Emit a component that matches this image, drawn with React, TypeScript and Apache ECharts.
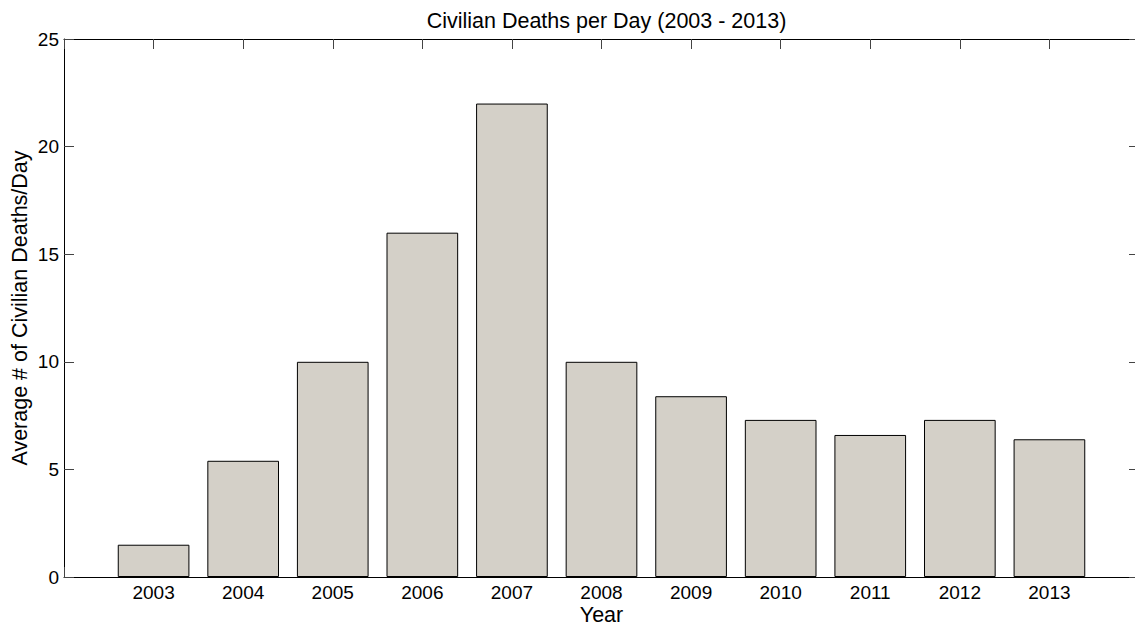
import React, { useEffect, useRef } from "react";
import * as echarts from "echarts";

const years = [2003, 2004, 2005, 2006, 2007, 2008, 2009, 2010, 2011, 2012, 2013];
const deathsPerDay = [1.5, 5.4, 10.0, 16.0, 22.0, 10.0, 8.4, 7.3, 6.6, 7.3, 6.4];
const yTicks = [0, 5, 10, 15, 20, 25];
const titleText = "Civilian Deaths per Day (2003 - 2013)";
const xName = "Year";
const yName = "Average # of Civilian Deaths/Day";

const FONT = "Arial, 'Liberation Sans', Helvetica, sans-serif";
const FS = 19;
const FS_BIG = 21.5;

export default function App() {
  const ref = useRef<HTMLDivElement>(null);
  useEffect(() => {
    if (!ref.current) return;
    const chart = echarts.init(ref.current, undefined, { renderer: "svg" });
    const gridLeft = 64;
    const gridTop = 39;
    const gridW = 1075;
    const gridH = 538;
    const unit = gridW / 12;
    const tickStyle = { inside: true, length: 10, lineStyle: { color: "#444", width: 1 } };
    const lineStyle = { show: true, onZero: false, lineStyle: { color: "#000", width: 1 } };
    chart.setOption({
      animation: false,
      backgroundColor: "#fff",
      title: {
        text: titleText,
        left: gridLeft + gridW / 2,
        textAlign: "center",
        top: 5,
        textStyle: { fontFamily: FONT, fontSize: FS_BIG, fontWeight: "normal", color: "#000" },
      },
      grid: {
        left: gridLeft,
        top: gridTop,
        width: gridW,
        height: gridH,
        containLabel: false,
        outerBoundsMode: "none",
      },
      xAxis: [
        {
          type: "value",
          position: "bottom",
          min: 2002,
          max: 2014,
          interval: 1,
          axisLine: lineStyle,
          axisTick: tickStyle,
          splitLine: { show: false },
          axisLabel: {
            margin: 6,
            color: "#000",
            fontFamily: FONT,
            fontSize: FS,
            formatter: (v: number) => (years.indexOf(v) >= 0 ? String(v) : ""),
          },
          name: xName,
          nameLocation: "middle",
          nameGap: 28,
          nameMoveOverlap: false,
          nameTextStyle: { color: "#000", fontFamily: FONT, fontSize: FS_BIG, lineHeight: 20 },
        },
        {
          type: "value",
          position: "top",
          min: 2002,
          max: 2014,
          interval: 1,
          axisLine: lineStyle,
          axisTick: tickStyle,
          splitLine: { show: false },
          axisLabel: { show: false },
        },
      ],
      yAxis: [
        {
          type: "value",
          position: "left",
          min: yTicks[0],
          max: yTicks[yTicks.length - 1],
          interval: 5,
          axisLine: lineStyle,
          axisTick: tickStyle,
          splitLine: { show: false },
          axisLabel: { margin: 5, color: "#000", fontFamily: FONT, fontSize: FS },
          name: yName,
          nameLocation: "middle",
          nameGap: 33,
          nameMoveOverlap: false,
          nameTextStyle: { color: "#000", fontFamily: FONT, fontSize: FS_BIG },
        },
        {
          type: "value",
          position: "right",
          min: yTicks[0],
          max: yTicks[yTicks.length - 1],
          interval: 5,
          axisLine: lineStyle,
          axisTick: tickStyle,
          splitLine: { show: false },
          axisLabel: { show: false },
        },
      ],
      series: [
        {
          type: "bar",
          xAxisIndex: 0,
          yAxisIndex: 0,
          data: years.map((y, i) => [y, deathsPerDay[i]]),
          barWidth: unit * 0.8,
          itemStyle: { color: "#d4d0c8", borderColor: "#000", borderWidth: 1 },
        },
      ],
    });
    return () => chart.dispose();
  }, []);
  return (
    <div style={{ position: "absolute", left: 0, top: 0, width: 1135, height: 628, overflow: "hidden", background: "#fff" }}>
      <div ref={ref} style={{ width: 1150, height: 628 }} />
    </div>
  );
}
